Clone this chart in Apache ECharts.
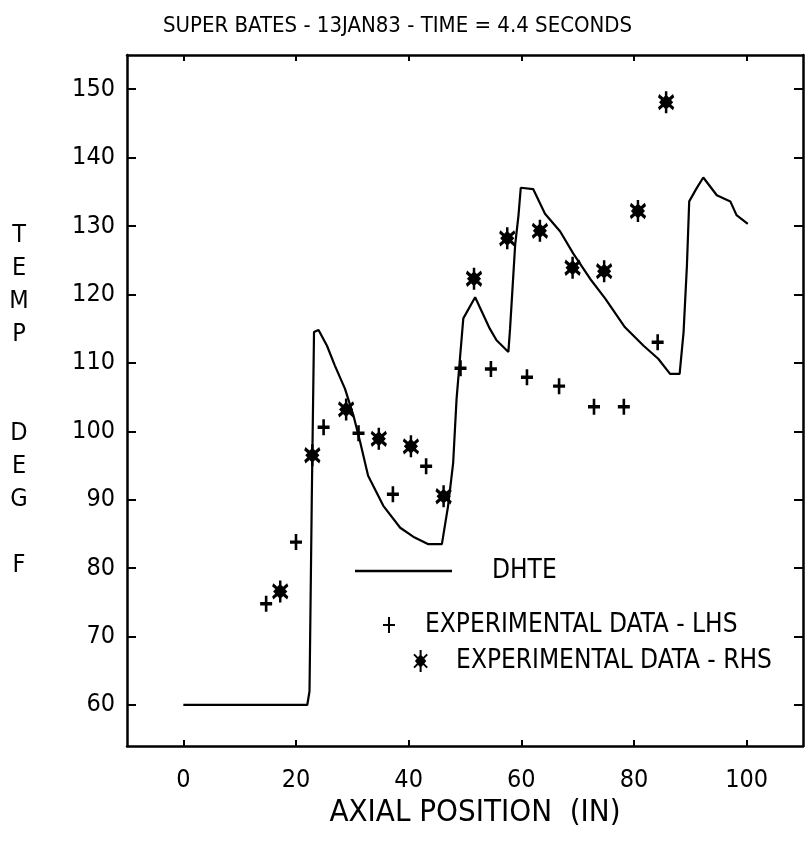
<!DOCTYPE html>
<html>
<head>
<meta charset="utf-8">
<title>Super Bates</title>
<script src="https://cdn.jsdelivr.net/npm/echarts@6/dist/echarts.min.js"></script>
<style>
  html, body { margin: 0; padding: 0; background: #fff; }
  #main { width: 808px; height: 847px; }
</style>
</head>
<body>
<div id="main"></div>
<script type="text/javascript">
// DHTE calculation (axial position in, temp deg F)
var dhtePos  = [0, 22, 22.4, 22.8, 23.2, 24.0, 25.5, 26.9, 28.7, 30.2, 31.4, 32.8, 35.5, 38.5, 40.8, 43.5, 45.9,
                47.0, 47.9, 48.5, 49.1, 49.7, 51.8, 54.4, 55.6, 57.7, 58.0, 58.9, 59.5, 59.9, 62.1,
                64.2, 66.9, 69.2, 72.2, 74.9, 78.4, 81.7, 84.3, 86.4, 88.1, 88.8, 89.4, 89.8, 91.1,
                92.3, 94.7, 97.1, 98.2, 100.2];
var dhteTemp = [60, 60, 62, 90, 114.5, 114.8, 112.5, 109.6, 106.2, 102.3, 98.4, 93.5, 89.1, 85.9, 84.6, 83.5, 83.5,
                89.1, 95.4, 104.7, 110.6, 116.5, 119.6, 115.0, 113.3, 111.6, 115, 127.2, 131.6, 135.6, 135.4,
                131.8, 129.2, 126.0, 122.3, 119.4, 115.2, 112.5, 110.6, 108.4, 108.4, 114.5, 124.3, 133.6, 135.5,
                137.1, 134.5, 133.6, 131.6, 130.3];

// experimental data - LHS (+)
var lhsPos  = [14.7, 20.0, 24.9, 31.1, 37.2, 43.1, 49.2, 54.6, 61.0, 66.7, 72.9, 78.2, 84.2];
var lhsTemp = [74.8, 83.8, 100.6, 99.7, 90.8, 94.9, 109.2, 109.1, 107.9, 106.6, 103.6, 103.6, 113.0];

// experimental data - RHS (*)
var rhsPos  = [17.2, 22.9, 28.9, 34.7, 40.4, 46.2, 51.6, 57.5, 63.3, 69.1, 74.7, 80.7, 85.7];
var rhsTemp = [76.6, 96.5, 103.2, 98.9, 97.8, 90.5, 122.3, 128.2, 129.3, 123.9, 123.4, 132.2, 148.1];

var xTicks = [0, 20, 40, 60, 80, 100];
var yTicks = [60, 70, 80, 90, 100, 110, 120, 130, 140, 150];

function pairs(xs, ys) {
    var out = [];
    for (var i = 0; i < xs.length; i++) out.push([xs[i], ys[i]]);
    return out;
}

var FONT = "'DejaVu Sans Condensed', 'DejaVu Sans', sans-serif";
var plusPath = 'path://M6,0L6,16M0,8L12,8';
var starPath = 'path://M7,0L7,20M1,4L13,16M13,4L1,16M7,5L11,10L7,15L3,10Z';

var myChart = echarts.init(document.getElementById('main'));

var frameLine = { show: true, onZero: false, lineStyle: { color: '#000', width: 2.5 } };
var tickStyle = { color: '#000', width: 2 };

var option = {
    backgroundColor: '#fff',
    animation: false,
    title: {
        text: 'SUPER BATES - 13JAN83 - TIME = 4.4 SECONDS',
        left: 158,
        top: 10,
        textStyle: { fontFamily: FONT, fontSize: 22, fontWeight: 'normal', color: '#000' }
    },
    legend: [
        {
            data: ['DHTE'],
            left: 350, top: 553,
            icon: 'rect',
            itemWidth: 97, itemHeight: 2.5,
            itemStyle: { color: '#000' },
            textStyle: { fontFamily: FONT, fontSize: 26, color: '#000', padding: [0, 0, 0, 35] }
        },
        {
            data: ['EXPERIMENTAL DATA - LHS'],
            left: 377, top: 607,
            itemWidth: 12, itemHeight: 16,
            textStyle: { fontFamily: FONT, fontSize: 26, color: '#000', padding: [0, 0, 0, 25] }
        },
        {
            data: ['EXPERIMENTAL DATA - RHS'],
            left: 408, top: 643,
            itemWidth: 15, itemHeight: 22,
            textStyle: { fontFamily: FONT, fontSize: 26, color: '#000', padding: [0, 0, 0, 23] }
        }
    ],
    grid: { left: 127, right: 5, top: 55, bottom: 101, containLabel: false },
    xAxis: [
        {
            type: 'value', min: -10, max: 110, position: 'bottom',
            name: 'AXIAL POSITION  (IN)',
            nameLocation: 'middle', nameGap: 51,
            nameTextStyle: { fontFamily: FONT, fontSize: 31, color: '#000', padding: [0, 0, 0, 20] },
            axisLine: frameLine,
            axisTick: { show: true, inside: true, length: 6, customValues: xTicks, lineStyle: tickStyle },
            axisLabel: { customValues: xTicks, margin: 22, fontFamily: FONT, fontSize: 25, color: '#000' },
            splitLine: { show: false }
        },
        {
            type: 'value', min: -10, max: 110, position: 'top',
            axisLine: frameLine,
            axisTick: { show: true, inside: true, length: 6, customValues: xTicks, lineStyle: tickStyle },
            axisLabel: { show: false },
            splitLine: { show: false }
        }
    ],
    yAxis: [
        {
            type: 'value', min: 54, max: 155, position: 'left',
            name: 'T\nE\nM\nP\n\n\nD\nE\nG\n\nF',
            nameLocation: 'middle', nameRotate: 0, nameGap: 108,
            nameTextStyle: { fontFamily: FONT, fontSize: 25, color: '#000', lineHeight: 33, align: 'center' },
            axisLine: frameLine,
            axisTick: { show: true, inside: true, length: 9, customValues: yTicks, lineStyle: tickStyle },
            axisLabel: { customValues: yTicks, margin: 12, fontFamily: FONT, fontSize: 25, color: '#000' },
            splitLine: { show: false }
        },
        {
            type: 'value', min: 54, max: 155, position: 'right',
            axisLine: frameLine,
            axisTick: { show: true, inside: true, length: 9, customValues: yTicks, lineStyle: tickStyle },
            axisLabel: { show: false },
            splitLine: { show: false }
        }
    ],
    series: [
        {
            name: 'DHTE',
            type: 'line',
            data: pairs(dhtePos, dhteTemp),
            symbol: 'none',
            lineStyle: { color: '#000', width: 2.2 },
            itemStyle: { color: '#000' }
        },
        {
            name: 'EXPERIMENTAL DATA - LHS',
            type: 'scatter',
            data: pairs(lhsPos, lhsTemp),
            symbol: plusPath,
            symbolSize: [12, 16],
            itemStyle: { color: 'rgba(0,0,0,0)', borderColor: '#000', borderWidth: 3, opacity: 1 }
        },
        {
            name: 'EXPERIMENTAL DATA - RHS',
            type: 'scatter',
            data: pairs(rhsPos, rhsTemp),
            symbol: starPath,
            symbolSize: [15, 22],
            itemStyle: { color: '#000', borderColor: '#000', borderWidth: 3, opacity: 1 }
        }
    ]
};

myChart.setOption(option);
</script>
</body>
</html>
